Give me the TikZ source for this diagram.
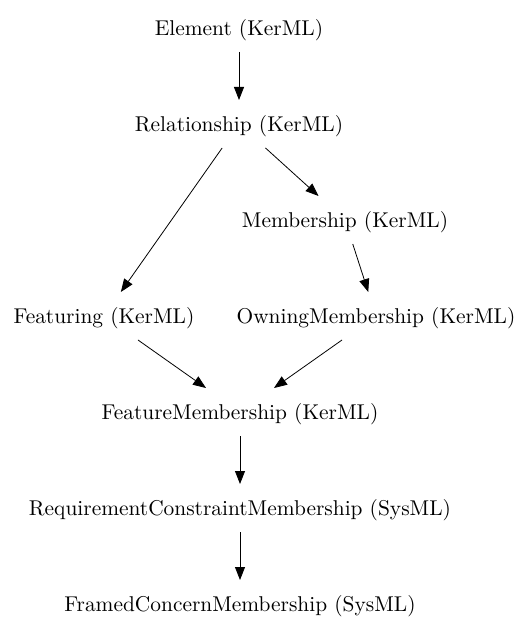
\documentclass[tikz,border=0pt]{standalone}
\usetikzlibrary{arrows.meta}

\begin{document}
\begin{tikzpicture}[x=0.5pt, y=-0.5pt, font=\fontsize{10.7}{13}\selectfont]
    \tikzset{>={Triangle[length=6.5pt, width=5pt]}}
    % box-less class nodes, arrows run centre to centre
    \tikzstyle{cls}   = [rectangle, minimum height = 24pt, inner xsep = 4pt, outer sep = 0pt, text height = 1.0em, text depth = 0.25em, text centered]
    \tikzstyle{arrow} = [thin, ->]

    \useasboundingbox (0,0) rectangle (531,635);

    \node[cls] (elem)  at (239,28)  {Element (KerML)};
    \node[cls] (rel)   at (239,124) {Relationship (KerML)};
    \node[cls] (memb)  at (345,220) {Membership (KerML)};
    \node[cls] (feat)  at (104,316) {Featuring (KerML)};
    \node[cls] (own)   at (376,316) {OwningMembership (KerML)};
    \node[cls] (fmemb) at (240,412) {FeatureMembership (KerML)};
    \node[cls] (req)   at (240,508) {RequirementConstraintMembership (SysML)};
    \node[cls] (frame) at (240,604) {FramedConcernMembership (SysML)};

    \draw[arrow] (elem)  -- (rel);
    \draw[arrow] (rel)   -- (memb);
    \draw[arrow] (rel)   -- (feat);
    \draw[arrow] (memb)  -- (own);
    \draw[arrow] (feat)  -- (fmemb);
    \draw[arrow] (own)   -- (fmemb);
    \draw[arrow] (fmemb) -- (req);
    \draw[arrow] (req)   -- (frame);
\end{tikzpicture}
\end{document}
